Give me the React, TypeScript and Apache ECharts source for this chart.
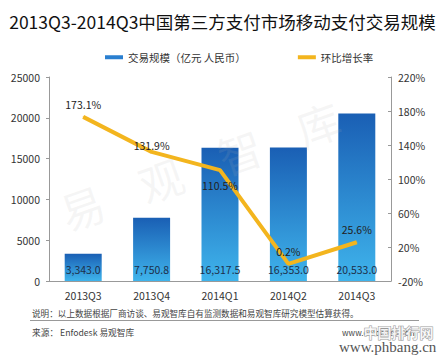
import React, { useEffect, useRef } from "react";
import * as echarts from "echarts";

const categories = ["2013Q3", "2013Q4", "2014Q1", "2014Q2", "2014Q3"];
const volume = [3343.0, 7750.8, 16317.5, 16353.0, 20533.0];
const growth = [173.1, 131.9, 110.5, 0.2, 25.6];
const growthLabelPos = ["top", "top", "bottom", "top", "top"];

const FONT = "'Noto Sans CJK SC', 'Noto Sans', sans-serif";

export default function App() {
  const ref = useRef<HTMLDivElement>(null);
  useEffect(() => {
    if (!ref.current) return;
    const chart = echarts.init(ref.current, null, { renderer: "svg" });
    const barGradient = new echarts.graphic.LinearGradient(0, 0, 0, 1, [
      { offset: 0, color: "#1a5fb4" },
      { offset: 1, color: "#3fb4ec" },
    ]);
    chart.setOption({
      animation: false,
      backgroundColor: "#ffffff",
      textStyle: { fontFamily: FONT },
      title: {
        text: "2013Q3-2014Q3中国第三方支付市场移动支付交易规模",
        left: "center",
        top: 8,
        textStyle: { fontSize: 17.5, fontWeight: "normal", color: "#111", fontFamily: FONT },
      },
      legend: {
        top: 47,
        left: 100,
        itemWidth: 18,
        itemHeight: 4,
        itemGap: 52,
        textStyle: { fontSize: 10.5, color: "#333", fontFamily: FONT },
        data: [
          { name: "交易规模（亿元 人民币）", icon: "rect", itemStyle: { color: "#2a7fd0" } },
          { name: "环比增长率", icon: "rect", itemStyle: { color: "#f3b51e" } },
        ],
      },
      grid: { left: 49, right: 54, top: 77, bottom: 78 },
      xAxis: {
        type: "category",
        data: categories,
        axisLine: { lineStyle: { color: "#999" } },
        axisTick: { show: false },
        axisLabel: { fontSize: 10.5, color: "#333", margin: 9 },
      },
      yAxis: [
        {
          type: "value",
          min: 0,
          max: 25000,
          interval: 5000,
          splitLine: { show: false },
          axisLine: { show: true, lineStyle: { color: "#999" } },
          axisTick: { show: true, length: 3, lineStyle: { color: "#999" } },
          axisLabel: { fontSize: 10.5, color: "#333", margin: 9, formatter: (v: number) => String(v) },
        },
        {
          type: "value",
          min: -20,
          max: 220,
          interval: 40,
          splitLine: { show: false },
          axisLine: { show: true, lineStyle: { color: "#999" } },
          axisTick: { show: true, inside: true, length: 3, lineStyle: { color: "#999" } },
          axisLabel: { fontSize: 10.5, color: "#333", margin: 7, formatter: "{value}%" },
        },
      ],
      series: [
        {
          name: "交易规模（亿元 人民币）",
          type: "bar",
          data: volume,
          barWidth: 37,
          itemStyle: { color: barGradient },
          label: {
            show: true,
            position: "insideBottom",
            distance: 6,
            fontSize: 10.5,
            color: "#1d2f4a",
            formatter: (p: any) =>
              p.value.toLocaleString("en-US", { minimumFractionDigits: 1, maximumFractionDigits: 1 }),
          },
          z: 2,
        },
        {
          name: "环比增长率",
          type: "line",
          yAxisIndex: 1,
          data: growth.map((v, i) => ({
            value: v,
            label: {
              position: growthLabelPos[i],
              distance: i === 1 ? 1 : growthLabelPos[i] === "bottom" ? 10 : 7,
            },
          })),
          symbol: "circle",
          symbolSize: 1,
          showSymbol: true,
          lineStyle: { color: "#f3b51e", width: 4 },
          itemStyle: { color: "#f3b51e" },
          label: {
            show: true,
            fontSize: 10.5,
            color: "#222",
            formatter: (p: any) => p.value.toFixed(1) + "%",
          },
          labelLayout: { hideOverlap: false },
          z: 5,
        },
      ],
      graphic: [
        {
          type: "text",
          x: 200,
          y: 165,
          rotation: 0.34,
          z: 10,
          silent: true,
          style: {
            text: "易    观    智    库",
            fill: "rgba(180,180,180,0.12)",
            font: "44px 'Noto Sans CJK SC'",
            align: "center",
            verticalAlign: "middle",
          },
        },
        {
          type: "text",
          left: 32,
          top: 309,
          style: {
            text: "说明：以上数据根据厂商访谈、易观智库自有监测数据和易观智库研究模型估算获得。",
            fontSize: 8.6,
            fill: "#444",
            fontFamily: FONT,
          },
        },
        {
          type: "line",
          shape: { x1: 30, y1: 320.5, x2: 419, y2: 320.5 },
          style: { stroke: "#999", lineWidth: 1 },
        },
        {
          type: "text",
          left: 32,
          top: 328,
          style: { text: "来源： Enfodesk 易观智库", fontSize: 8.7, fill: "#444", fontFamily: FONT },
        },
        {
          type: "text",
          left: 342,
          top: 328,
          style: { text: "www.enfodesk.com", fontSize: 8.2, fill: "#444", fontFamily: FONT },
        },
        {
          type: "text",
          left: 363,
          top: 324,
          z: 20,
          style: {
            text: "中国排行网",
            fontSize: 14,
            fontWeight: "bold",
            fill: "rgba(255,255,255,0.85)",
            stroke: "#9a9a9a",
            lineWidth: 1,
            fontFamily: FONT,
          },
        },
        {
          type: "text",
          left: 339,
          top: 339,
          style: { text: "www.phbang.cn", fontSize: 15, fill: "#555", fontFamily: "'Liberation Serif', serif" },
        },
      ],
    });
    return () => chart.dispose();
  }, []);
  return <div ref={ref} style={{ width: 445, height: 359, position: "absolute", left: 0, top: 0 }} />;
}
